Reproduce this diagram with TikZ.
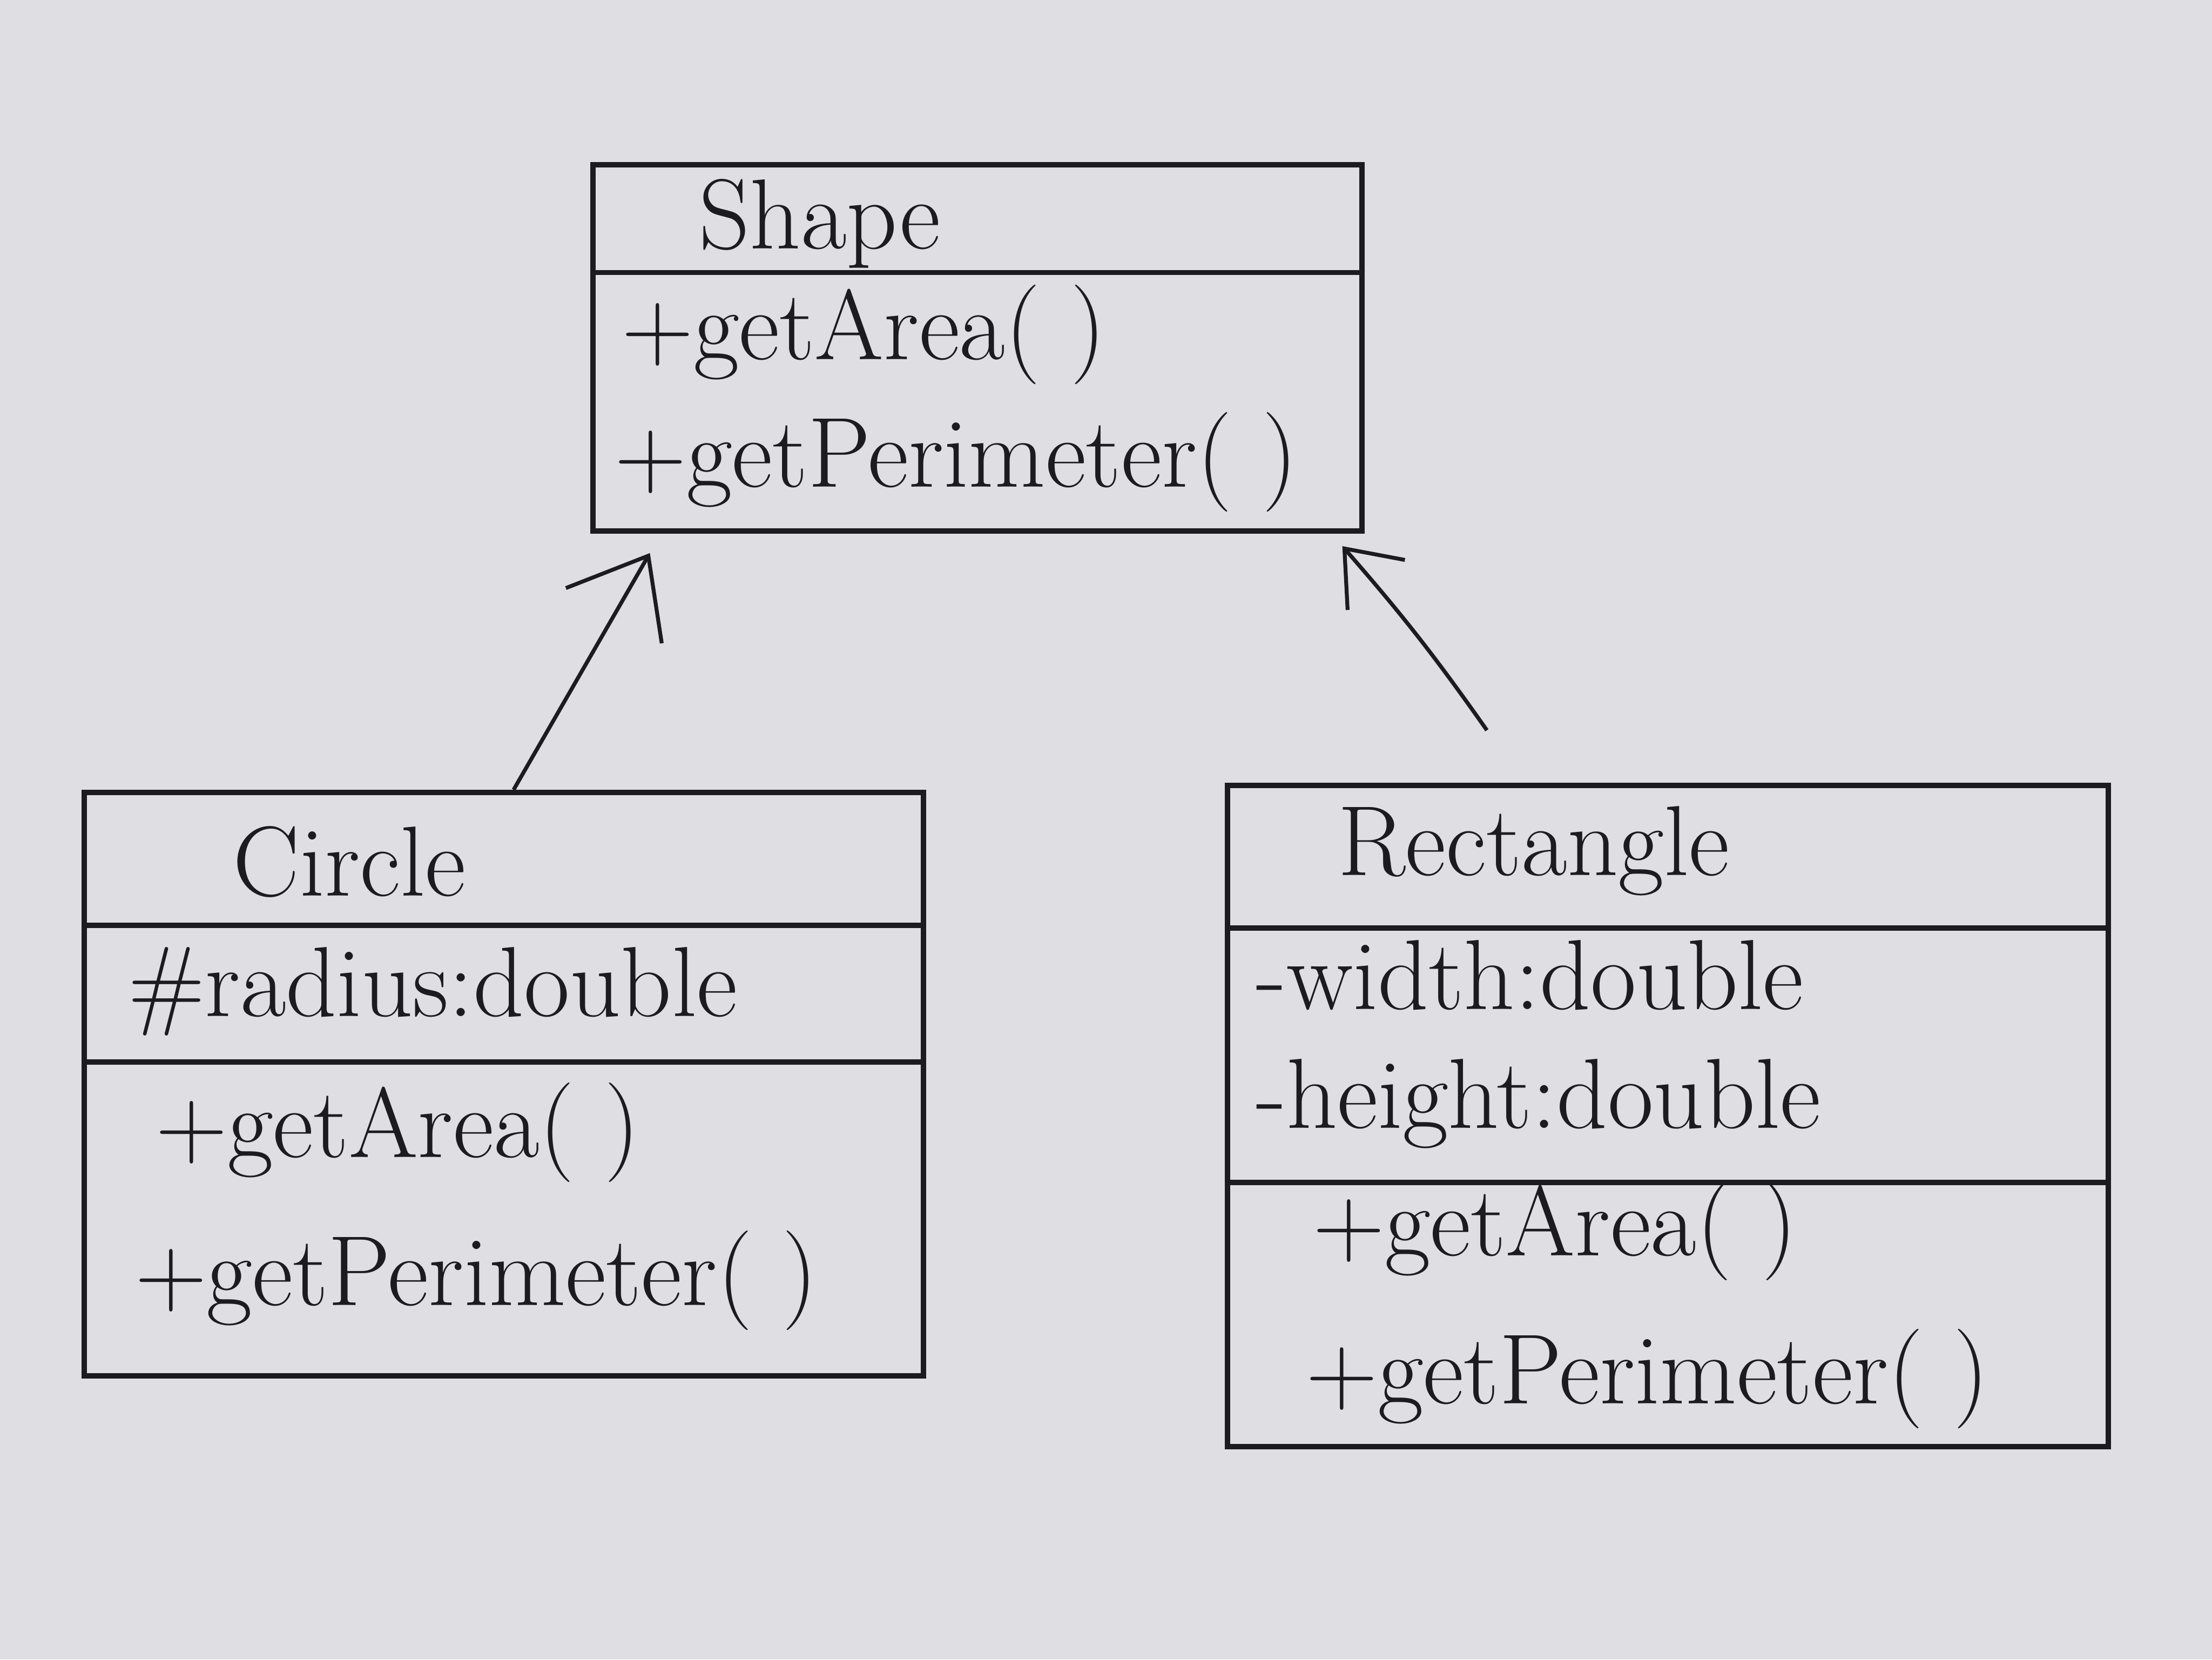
\documentclass[tikz,border=0pt]{standalone}
\definecolor{paper}{RGB}{222, 222, 227}
\definecolor{ink}{RGB}{28, 28, 32}
\usepackage{tikz}
\usepackage{xcolor}
\usetikzlibrary{arrows.meta, positioning}

\begin{document}
\begin{tikzpicture}[
    classbox/.style={draw=ink, line width=1.1pt, inner sep=0pt},
    divider/.style={draw=ink, line width=1.1pt},
    member/.style={anchor=base west, inner sep=0pt, text=ink, font=\fontsize{20.5}{24}\selectfont},
    inherit/.style={draw=ink, line width=0.8pt, -{Straight Barb[length=5mm, width=8mm]}}
]
    \fill[paper] (0, 0) rectangle (16, 12);
    \useasboundingbox (0, 0) rectangle (16, 12);

    % base class
    \node[classbox, minimum width=5.56cm, minimum height=2.65cm] (shape) at (7.07, 9.485) {};
    \draw[divider] ([yshift=-8mm]shape.north west) -- ([yshift=-8mm]shape.north east);
    \node[member] (shape-name) at (5.05, 10.2) {Shape};
    \node[member] (shape-area) at (4.49, 9.40) {+getArea( )};
    \node[member] (shape-perim) at (4.44, 8.48) {+getPerimeter( )};

    % Circle
    \node[classbox, minimum width=6.07cm, minimum height=4.22cm] (circle) at (3.645, 4.16) {};
    \draw[divider] ([yshift=-9.8mm]circle.north west) -- ([yshift=-9.8mm]circle.north east);
    \draw[divider] ([yshift=-19.7mm]circle.north west) -- ([yshift=-19.7mm]circle.north east);
    \node[member] (circle-name) at (1.68, 5.52) {Circle};
    \node[member] (circle-radius) at (0.92, 4.65) {\#radius:double};
    \node[member] (circle-area) at (1.12, 3.63) {+getArea( )};
    \node[member] (circle-perim) at (0.97, 2.56) {+getPerimeter( )};

    % Rectangle
    \node[classbox, minimum width=6.37cm, minimum height=4.78cm] (rect) at (12.065, 3.93) {};
    \draw[divider] ([yshift=-10.5mm]rect.north west) -- ([yshift=-10.5mm]rect.north east);
    \draw[divider] ([yshift=-28.9mm]rect.north west) -- ([yshift=-28.9mm]rect.north east);
    \node[member] (rect-name) at (9.67, 5.67) {Rectangle};
    \node[member] (rect-width) at (9.08, 4.70) {-width:double};
    \node[member] (rect-height) at (9.08, 3.84) {-height:double};
    \node[member] (rect-area) at (9.49, 2.92) {+getArea( )};
    \node[member] (rect-perim) at (9.44, 1.85) {+getPerimeter( )};

    % generalisation
    \draw[inherit] ([xshift=0.7mm]circle.north) -- ([xshift=4.3mm, yshift=-1.4mm]shape.south west);
    \draw[inherit, -{Straight Barb[length=3.5mm, width=5.5mm]}] ([xshift=-13.1mm, yshift=3.8mm]rect.north) to[bend right=3] ([xshift=-1.6mm, yshift=-0.9mm]shape.south east);
\end{tikzpicture}
\end{document}
